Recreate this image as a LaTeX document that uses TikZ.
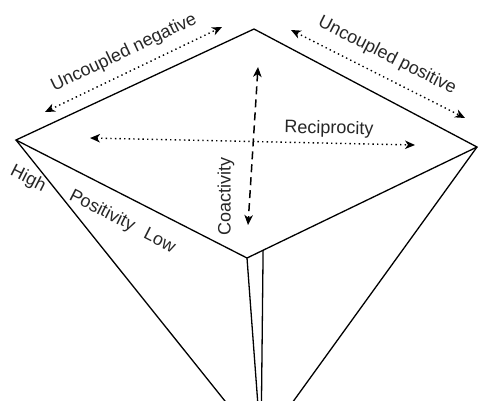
\documentclass[tikz,border=0pt]{standalone}
\usepackage{fontspec}
\setmainfont{Liberation Sans}
\usetikzlibrary{arrows.meta,calc}
\begin{document}
\begin{tikzpicture}[x=1pt,y=-1pt,
  edge/.style={line width=1.3pt, line join=miter, line cap=butt},
  tipstyle/.style={},
  dotarrow/.style={line width=1.4pt, dash pattern=on 1.4pt off 3.2pt,
    {Stealth[length=10pt,width=8.5pt,inset=3pt]}-{Stealth[length=10pt,width=8.5pt,inset=3pt]}},
  dasharrow/.style={line width=1.5pt, dash pattern=on 8pt off 5pt,
    {Stealth[length=10pt,width=8.5pt,inset=3pt]}-{Stealth[length=10pt,width=8.5pt,inset=3pt]}},
  lab/.style={font=\fontsize{18}{20}\selectfont, inner sep=0pt, text=black!85}]
\useasboundingbox (0,0) rectangle (478,400);
\clip (0,0) rectangle (478,400);
% pyramid vertices
\coordinate (T) at (254,29);
\coordinate (L) at (16,140);
\coordinate (F) at (247,258);
\coordinate (R) at (477,147);
\coordinate (A) at (261,446);
\coordinate (P) at ($(F)!0.07!(R)$);
% edges
\draw[edge] (L) -- (T) -- (R) -- (F) -- cycle;
\draw[edge] (L) -- (A);
\draw[edge] (R) -- (A);
\draw[edge] (F) -- (A);
\draw[edge] (P) -- (A);
% arrow end points
\coordinate (un1) at (45,112);
\coordinate (un2) at (222,27);
\coordinate (up1) at (291,30);
\coordinate (up2) at (465,118);
\coordinate (re1) at (90,138);
\coordinate (re2) at (415,145);
\coordinate (co1) at (258,67);
\coordinate (co2) at (248,225);
\draw[dotarrow] (un1) -- (un2);
\draw[dotarrow] (up1) -- (up2);
\draw[dotarrow] (re1) -- (re2);
\draw[dasharrow] (co1) -- (co2);
% labels
\node[lab, rotate=25.6] (tun) at (124,53) {Uncoupled negative};
\node[lab, rotate=-26.8] (tup) at (387,56) {Uncoupled positive};
\node[lab, rotate=-1] (tre) at (329,129) {Reciprocity};
\node[lab, rotate=90] (tco) at (226,196) {Coactivity};
\node[lab, rotate=-27] (thi) at (28,179) {High};
\node[lab, rotate=-27] (tpo) at (102,211) {Positivity};
\node[lab, rotate=-27] (tlo) at (160,240) {Low};
\end{tikzpicture}
\end{document}
